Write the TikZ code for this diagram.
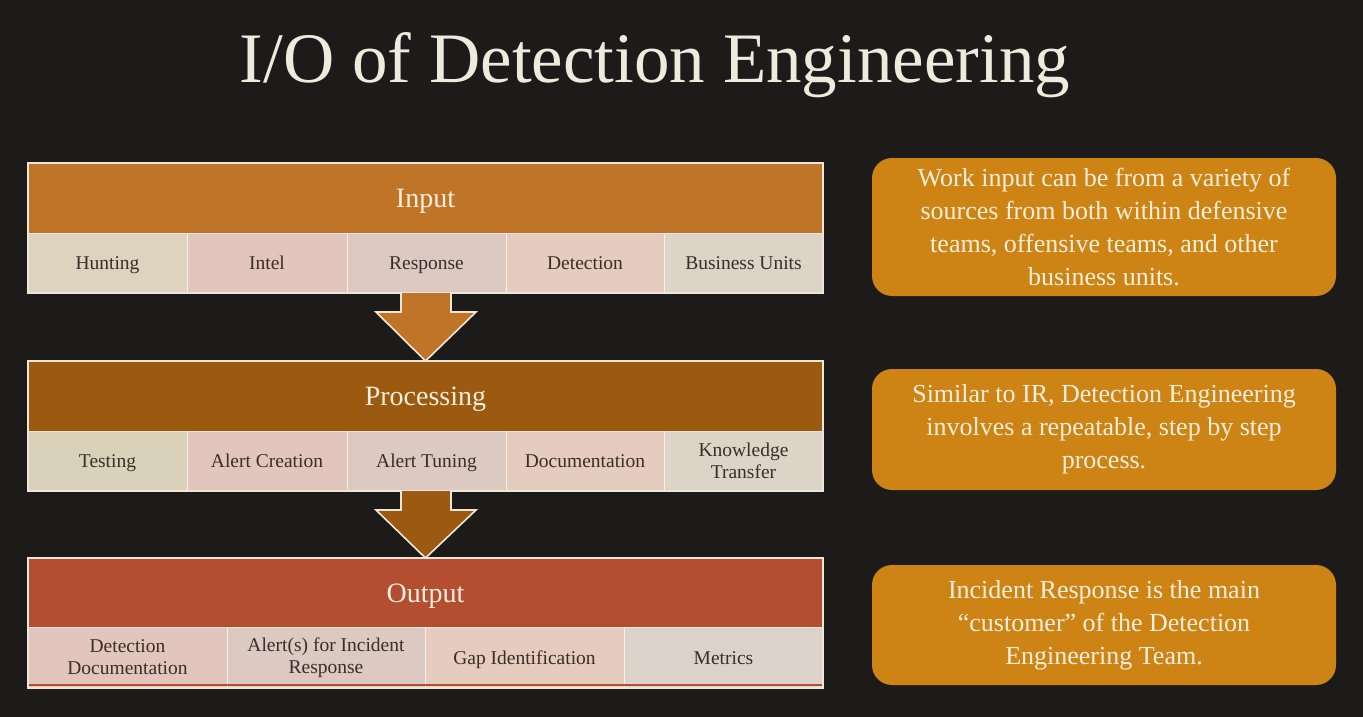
\documentclass[tikz,border=0pt]{standalone}
\usepackage{fontspec}
\setmainfont{Liberation Serif}
\usetikzlibrary{calc}

\definecolor{bgc}{HTML}{1C1B1A}
\definecolor{titlec}{HTML}{EEEBDD}
\definecolor{inputc}{HTML}{C07428}
\definecolor{procc}{HTML}{9C5A10}
\definecolor{outc}{HTML}{B44E30}
\definecolor{notec}{HTML}{CD8415}
\definecolor{cream}{HTML}{F6EFDC}
\definecolor{edgec}{HTML}{EEE6D8}
\definecolor{celltext}{HTML}{3A2E28}
\definecolor{cA}{HTML}{DDD3BF}
\definecolor{cB}{HTML}{E2C6BE}
\definecolor{cC}{HTML}{DCC9C1}
\definecolor{cD}{HTML}{E6CCBE}
\definecolor{cE}{HTML}{DCD4C6}
\definecolor{cF}{HTML}{D9D1BA}
\definecolor{cG}{HTML}{DCD2CA}

\tikzset{
  hdrbox/.style={anchor=north west, inner sep=0pt, outer sep=0pt,
    minimum width=795pt, minimum height=70pt, text=cream,
    text height=19pt, text depth=0pt,
    font=\fontsize{28}{32}\selectfont},
  cellbase/.style={anchor=north west, inner sep=0pt, outer sep=0pt,
    minimum height=60pt, draw=edgec!60!white, line width=0.5pt,
    text=celltext, font=\fontsize{19.5}{22}\selectfont},
  cellbox/.style={cellbase, text height=13pt, text depth=0pt},
  cellbox2/.style={cellbase, align=center},
  panelframe/.style={draw=edgec, line width=1.6pt},
  flowarrow/.style={draw=edgec, line width=1.6pt, line join=miter},
  notebox/.style={anchor=north west, fill=notec, rounded corners=20pt,
    inner sep=0pt, outer sep=0pt, minimum width=464pt, text=cream,
    align=center, font=\fontsize{26}{33}\selectfont}
}

\begin{document}
\begin{tikzpicture}[x=1pt, y=-1pt]
  % page and background
  \fill[bgc] (0,0) rectangle (1363,717);
  \useasboundingbox (0,0) rectangle (1363,717);

  % title
  \node[text=titlec, font=\fontsize{71}{80}\selectfont, anchor=base] (title)
    at (655,82) {I/O of Detection Engineering};

  % ---------- Input panel ----------
  \node[hdrbox, fill=inputc] (inhdr) at (28,163) {Input};
  \node[cellbox, fill=cA, minimum width=159pt] (in1) at (28,233) {Hunting};
  \node[cellbox, fill=cB, minimum width=160pt] (in2) at (187,233) {Intel};
  \node[cellbox, fill=cC, minimum width=159pt] (in3) at (347,233) {Response};
  \node[cellbox, fill=cD, minimum width=158pt] (in4) at (506,233) {Detection};
  \node[cellbox, fill=cE, minimum width=159pt] (in5) at (664,233) {Business Units};
  \draw[panelframe] (inhdr.north west) rectangle (in5.south east);
  \draw[edgec, line width=1pt] (inhdr.south west) -- (inhdr.south east);

  % ---------- Processing panel ----------
  \node[hdrbox, fill=procc] (prhdr) at (28,361) {Processing};
  \node[cellbox, fill=cF, minimum width=159pt] (pr1) at (28,431) {Testing};
  \node[cellbox, fill=cB, minimum width=160pt] (pr2) at (187,431) {Alert Creation};
  \node[cellbox, fill=cC, minimum width=159pt] (pr3) at (347,431) {Alert Tuning};
  \node[cellbox, fill=cD, minimum width=158pt] (pr4) at (506,431) {Documentation};
  \node[cellbox2, fill=cE, minimum width=159pt] (pr5) at (664,431) {Knowledge\\Transfer};
  \draw[panelframe] (prhdr.north west) rectangle (pr5.south east);
  \draw[edgec, line width=1pt] (prhdr.south west) -- (prhdr.south east);

  % ---------- Output panel ----------
  \node[hdrbox, fill=outc, minimum height=69pt] (ouhdr) at (28,558) {Output};
  \node[cellbox2, fill=cB, minimum width=199pt, minimum height=61pt] (ou1) at (28,627) {Detection\\Documentation};
  \node[cellbox2, fill=cC, minimum width=198pt, minimum height=61pt] (ou2) at (227,627) {Alert(s) for Incident\\Response};
  \node[cellbox, fill=cD, minimum width=199pt, minimum height=61pt] (ou3) at (425,627) {Gap Identification};
  \node[cellbox, fill=cG, minimum width=199pt, minimum height=61pt] (ou4) at (624,627) {Metrics};
  \draw[outc, line width=1.2pt] ($(ou1.south west)+(1,-3)$) -- ($(ou4.south east)+(-1,-3)$);
  \draw[panelframe] (ouhdr.north west) rectangle (ou4.south east);
  \draw[edgec, line width=1pt] (ouhdr.south west) -- (ouhdr.south east);

  % ---------- block arrows between the panels ----------
  \coordinate (a1s) at ($(in3.south)+(-0.5,0)$);
  \coordinate (a1t) at (prhdr.north);
  \filldraw[flowarrow, fill=inputc]
    ($(a1s)+(-25,0)$) -- ($(a1s)+(-25,19)$) -- ($(a1s)+(-50,19)$) --
    (a1t) -- ($(a1s)+(50,19)$) -- ($(a1s)+(25,19)$) -- ($(a1s)+(25,0)$);
  \coordinate (a2s) at ($(pr3.south)+(-0.5,0)$);
  \coordinate (a2t) at (ouhdr.north);
  \filldraw[flowarrow, fill=procc]
    ($(a2s)+(-25,0)$) -- ($(a2s)+(-25,19)$) -- ($(a2s)+(-50,19)$) --
    (a2t) -- ($(a2s)+(50,19)$) -- ($(a2s)+(25,19)$) -- ($(a2s)+(25,0)$);

  % ---------- notes on the right ----------
  \node[notebox, minimum height=138pt] (note1) at (872,158)
    {Work input can be from a variety of\\sources from both within defensive\\teams, offensive teams, and other\\business units.};
  \node[notebox, minimum height=121pt] (note2) at (872,369)
    {Similar to IR, Detection Engineering\\involves a repeatable, step by step\\process.};
  \node[notebox, minimum height=120pt] (note3) at (872,565)
    {Incident Response is the main\\``customer'' of the Detection\\Engineering Team.};
\end{tikzpicture}
\end{document}
